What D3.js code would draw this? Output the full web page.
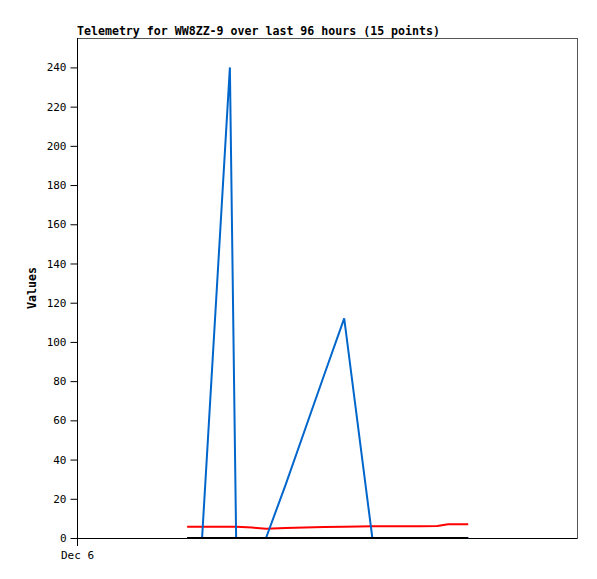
<!DOCTYPE html>
<html lang="en">
<head>
<meta charset="utf-8">
<title>Telemetry</title>
<script src="https://d3js.org/d3.v7.min.js"></script>
<style type="text/css">
    body { margin: 0; background: #fff; }
    text { font-family: "DejaVu Sans Mono", "Liberation Mono", monospace; font-size: 11px; fill: #000; }
    text.title { font-weight: bold; font-size: 11.6px; }
    text.ylabel { font-weight: bold; font-size: 11.6px; }
</style>
</head>
<body>
<script>

// data (times on Dec 6)
let times = ["05:17", "06:00", "07:20", "07:38", "08:24", "09:04", "10:00", "11:51",
             "12:49", "14:10", "15:30", "16:28", "17:17", "17:48", "18:46"];
let seriesBlue  = [0, 0, 240, 0, 0, 0, 27, 83, 112, 0, 0, 0, 0, 0, 0];
let seriesRed   = [5.8, 5.8, 5.8, 5.8, 5.3, 4.7, 5.1, 5.6, 5.8, 6.0, 6.0, 6.0, 6.1, 7.0, 7.0];
let seriesBlack = [0, 0, 0, 0, 0, 0, 0, 0, 0, 0, 0, 0, 0, 0, 0];
let yTicks = [0, 20, 40, 60, 80, 100, 120, 140, 160, 180, 200, 220, 240];
let titleText = "Telemetry for WW8ZZ-9 over last 96 hours (15 points)";

let W = 597, H = 579;
let margin = { top: 38, right: 20, bottom: 41, left: 77 };
let w = 500, h = 500;

let parse = d3.timeParse("%Y-%m-%d %H:%M");
let dates = times.map(t => parse("2023-12-06 " + t));

let xScale = d3.scaleTime()
    .domain([parse("2023-12-06 00:00"), parse("2023-12-06 23:59")])
    .range([0, w]);

let yScale = d3.scaleLinear()
    .domain([0, 255])
    .range([h, 0]);

let svg = d3.select("body")
    .append("svg")
    .attr("width", W)
    .attr("height", H);

svg.append("text")
    .attr("class", "title")
    .attr("x", margin.left)
    .attr("y", 35)
    .text(titleText);

let g = svg.append("g")
    .attr("transform", "translate(" + margin.left + "," + margin.top + ")");

// frame
g.append("rect")
    .attr("x", 0.5).attr("y", 0.5)
    .attr("width", w).attr("height", h)
    .attr("fill", "none")
    .attr("stroke", "#555")
    .attr("stroke-width", 1);

// y axis
let yAxis = d3.axisLeft(yScale)
    .tickValues(yTicks)
    .tickSize(7)
    .tickPadding(4);
g.append("g")
    .attr("transform", "translate(0.5,0)")
    .call(yAxis)
    .call(a => a.select(".domain").remove())
    .call(a => a.selectAll("line").attr("stroke", "#000"))
    .call(a => a.selectAll("text")
        .style("font-family", "'DejaVu Sans Mono', monospace")
        .style("font-size", "11px"));

// left axis line (extends below for the date tick)
g.append("line")
    .attr("x1", 0.5).attr("x2", 0.5)
    .attr("y1", 0).attr("y2", h + 8)
    .attr("stroke", "#000");

// x axis: one daily tick
let xAxis = d3.axisBottom(xScale)
    .ticks(d3.timeDay.every(1))
    .tickFormat(d3.timeFormat("%b %-d"))
    .tickSize(0)
    .tickPadding(13);
g.append("g")
    .attr("transform", "translate(0," + (h + 0.5) + ")")
    .call(xAxis)
    .call(a => a.select(".domain").remove())
    .call(a => a.selectAll("text")
        .style("font-family", "'DejaVu Sans Mono', monospace")
        .style("font-size", "11px"));

g.append("line")
    .attr("x1", 0).attr("x2", w)
    .attr("y1", h + 0.5).attr("y2", h + 0.5)
    .attr("stroke", "#000");

// y label
svg.append("text")
    .attr("class", "ylabel")
    .attr("transform", "translate(36,288) rotate(-90)")
    .attr("text-anchor", "middle")
    .text("Values");

let line = d3.line()
    .x((d, i) => xScale(dates[i]))
    .y(d => yScale(d));

function drawSeries(values, color) {
    g.append("path")
        .datum(values)
        .attr("fill", "none")
        .attr("stroke", color)
        .attr("stroke-width", 2)
        .attr("d", line);
}

drawSeries(seriesRed, "#ff0000");
drawSeries(seriesBlue, "#0066cc");
drawSeries(seriesBlack, "#000000");

</script>
</body>
</html>
